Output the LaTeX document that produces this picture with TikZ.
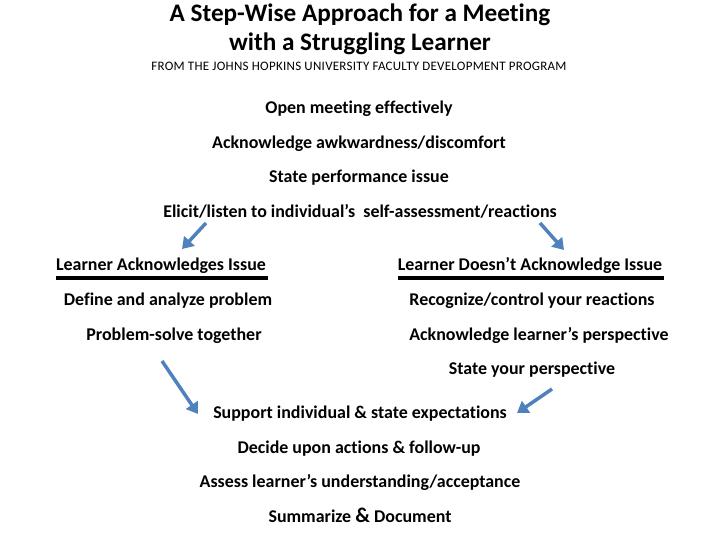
\documentclass[tikz,border=0pt]{standalone}
\usepackage{fontspec}
\setmainfont[Ligatures={NoCommon}]{Carlito}
\usetikzlibrary{arrows.meta}
\definecolor{arrowblue}{RGB}{79,129,189}
\begin{document}
\begin{tikzpicture}[x=1bp,y=-1bp,
  txt/.style={font=\bfseries\fontsize{18}{21}\selectfont, inner sep=0pt, anchor=base},
  ttl/.style={font=\bfseries\fontsize{25.3}{29}\selectfont, inner sep=0pt, anchor=base},
  sub/.style={font=\fontsize{13}{15}\selectfont\addfontfeature{LetterSpace=2.2}, inner sep=0pt, anchor=base},
  barr/.style={draw=arrowblue, line width=3.5bp, -{Triangle[length=11bp,width=14bp]}},
  uline/.style={line width=4.5bp, black}]
\useasboundingbox (0,0) rectangle (720,540);
\node[ttl] (t1) at (360,22) {A Step-Wise Approach for a Meeting};
\node[ttl] (t2) at (360,51) {with a Struggling Learner};
\node[sub] (st) at (359,70.5) {FROM THE JOHNS HOPKINS UNIVERSITY FACULTY DEVELOPMENT PROGRAM};
\node[txt] (s1) at (359,113.5) {Open meeting effectively};
\node[txt] (s2) at (359,148.5) {Acknowledge awkwardness/discomfort};
\node[txt] (s3) at (359,182.5) {State performance issue};
\node[txt] (s4) at (360,217.5) {Elicit/listen to individual’s\ \ self-assessment/reactions};
\node[txt] (hl) at (161,270.5) {Learner Acknowledges Issue};
\node[txt] (hr) at (530,270.5) {Learner Doesn’t Acknowledge Issue};
\draw[uline] (56,278) -- (268,278);
\draw[uline] (398,278) -- (664,278);
\node[txt] (l1) at (168,305.5) {Define and analyze problem};
\node[txt] (l2) at (174,340.5) {Problem-solve together};
\node[txt] (r1) at (532,305.5) {Recognize/control your reactions};
\node[txt] (r2) at (539,340.5) {Acknowledge learner’s perspective};
\node[txt] (r3) at (532,374.5) {State your perspective};
\node[txt] (m1) at (360,418.5) {Support individual \& state expectations};
\node[txt] (m2) at (359,453.5) {Decide upon actions \& follow-up};
\node[txt] (m3) at (360,487.5) {Assess learner’s understanding/acceptance};
\node[txt] (m4) at (360,522) {Summarize {\fontsize{21}{22}\selectfont\&} Document};
\coordinate (a1s) at (206,223);
\coordinate (a1e) at (182,249);
\coordinate (a2s) at (540,223);
\coordinate (a2e) at (564,250);
\coordinate (a3s) at (162,361);
\coordinate (a3e) at (198,414);
\coordinate (a4s) at (552,389);
\coordinate (a4e) at (517,413);
\draw[barr] (a1s) -- (a1e);
\draw[barr] (a2s) -- (a2e);
\draw[barr] (a3s) -- (a3e);
\draw[barr] (a4s) -- (a4e);
\end{tikzpicture}
\end{document}
